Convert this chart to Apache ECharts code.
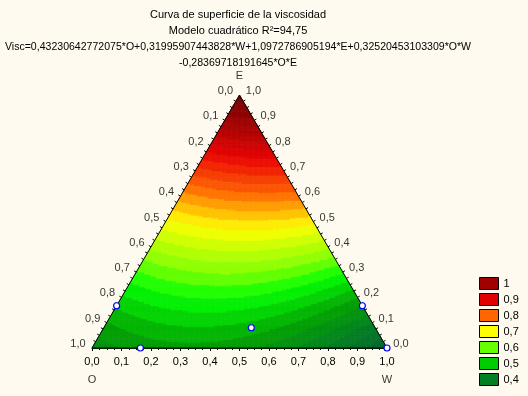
<!DOCTYPE html>
<html>
<head>
<meta charset="utf-8">
<script src="https://cdn.jsdelivr.net/npm/echarts@6/dist/echarts.min.js"></script>
<style>
html,body{margin:0;padding:0;background:#fffaf0;}
#chart{width:528px;height:396px;}
</style>
</head>
<body>
<div id="chart"></div>
<script>
// coeficientes del modelo cuadratico (O, W, E, O*W, O*E)
var coefTerms = ['O', 'W', 'E', 'O*W', 'O*E'];
var coefValues = [0.43230642772075, 0.31995907443828, 1.0972786905194, 0.32520453103309, -0.28369718191645];

// etiquetas de los lados
var edgeTicks = [0, 0.1, 0.2, 0.3, 0.4, 0.5, 0.6, 0.7, 0.8, 0.9, 1.0];
var minorPerTick = 4;
var vertexNames = ['O', 'W', 'E'];

// puntos experimentales (fracciones O, W, E)
var designO = [0.833, 0.836, 0.42, 0, 0];
var designW = [0, 0.164, 0.50, 0.833, 1];
var designE = [0.167, 0, 0.08, 0.167, 0];

// leyenda
var legendLevels = ['1', '0,9', '0,8', '0,7', '0,6', '0,5', '0,4'];
var legendColors = ['#a00000', '#e00000', '#ff6600', '#ffff00', '#66ff00', '#00cc00', '#008020'];

// escala de colores de las bandas
var bandStep = 0.025;
var bandMin = 0.3, bandMax = 1.125;
var colorStops = [0.3, 0.4, 0.47, 0.5, 0.55, 0.6, 0.7, 0.8, 0.9, 1.0, 1.1];
var colorAtStops = ['#005a30', '#008020', '#00a000', '#00c400', '#00ff00', '#80ff00', '#ffff00', '#ff6000', '#e80000', '#a00000', '#700000'];

var FONT = 'Liberation Sans, Arial, sans-serif';
var H = Math.sqrt(3) / 2;
var N = 120;

function fmt(v) { return v.toFixed(1).replace('.', ','); }

function visc(o, w, e) {
  return coefValues[0] * o + coefValues[1] * w + coefValues[2] * e +
    coefValues[3] * o * w + coefValues[4] * o * e;
}

function hex(c) { return [parseInt(c.substr(1, 2), 16), parseInt(c.substr(3, 2), 16), parseInt(c.substr(5, 2), 16)]; }
function colorFor(v) {
  if (v <= colorStops[0]) return colorAtStops[0];
  for (var i = 1; i < colorStops.length; i++) {
    if (v <= colorStops[i]) {
      var t = (v - colorStops[i - 1]) / (colorStops[i] - colorStops[i - 1]);
      var a = hex(colorAtStops[i - 1]), b = hex(colorAtStops[i]);
      return 'rgb(' + Math.round(a[0] + (b[0] - a[0]) * t) + ',' + Math.round(a[1] + (b[1] - a[1]) * t) + ',' + Math.round(a[2] + (b[2] - a[2]) * t) + ')';
    }
  }
  return colorAtStops[colorAtStops.length - 1];
}

var pieces = [];
for (var lo = bandMin; lo < bandMax - 1e-9; lo += bandStep) {
  pieces.push({ gte: lo, lt: lo + bandStep, color: colorFor(lo + bandStep / 2) });
}

// triangulos del simplex
var cells = [];
for (var b = 0; b < N; b++) {
  for (var a = 0; a + b < N; a++) {
    var e = (b + 1 / 3) / N, w = (a + 1 / 3) / N;
    cells.push([w + e / 2, e * H, visc(1 - w - e, w, e), a, b, 1]);
    if (a + b < N - 1) {
      e = (b + 2 / 3) / N; w = (a + 2 / 3) / N;
      cells.push([w + e / 2, e * H, visc(1 - w - e, w, e), a, b, 0]);
    }
  }
}

function toXY(o, w, e) { return [w + e / 2, e * H]; }

var leftLabels = edgeTicks.map(function (t) { var p = toXY(t, 0, 1 - t); return { value: p, name: fmt(t) }; });
var rightLabels = edgeTicks.map(function (t) { var p = toXY(0, 1 - t, t); return { value: p, name: fmt(t) }; });
var vertexPts = [toXY(1, 0, 0), toXY(0, 1, 0), toXY(0, 0, 1)].map(function (p, i) { return { value: p, name: vertexNames[i] }; });
var designPts = designO.map(function (o, i) { return toXY(o, designW[i], designE[i]); });

// marcas pequenas en los lados inclinados
var sideTicks = [];
for (var k = 1; k < (edgeTicks.length - 1) * minorPerTick; k++) {
  var t = k / ((edgeTicks.length - 1) * minorPerTick);
  sideTicks.push(toXY(1 - t, 0, t).concat([-1]));
  sideTicks.push(toXY(0, 1 - t, t).concat([1]));
}

function renderCell(params, api) {
  var a = api.value(3), b = api.value(4), up = api.value(5);
  var pts = up ? [[a, b], [a + 1, b], [a, b + 1]] : [[a + 1, b], [a, b + 1], [a + 1, b + 1]];
  var points = pts.map(function (p) {
    var w = p[0] / N, e = p[1] / N;
    return api.coord([w + e / 2, e * H]);
  });
  var c = api.visual('color');
  return { type: 'polygon', silent: true, shape: { points: points }, style: { fill: c, stroke: c, lineWidth: 0.6 } };
}

function renderSideTick(params, api) {
  var p = api.coord([api.value(0), api.value(1)]);
  var side = api.value(2);
  var len = 2.5;
  return {
    type: 'line', silent: true,
    shape: { x1: p[0], y1: p[1], x2: p[0] + side * 0.863 * len, y2: p[1] - 0.505 * len },
    style: { stroke: '#000', lineWidth: 1 }
  };
}

var chart = echarts.init(document.getElementById('chart'));
var labelStyle = { show: true, position: 'inside', color: '#000', fontSize: 11, fontFamily: FONT, formatter: '{b}' };

var series = [
  {
    type: 'custom', renderItem: renderCell, data: cells, progressive: 0, animation: false,
    encode: { x: 0, y: 1 }, z: 1
  },
  {
    type: 'line', data: [toXY(1, 0, 0), toXY(0, 0, 1), toXY(0, 1, 0), toXY(1, 0, 0)],
    symbol: 'none', lineStyle: { color: '#000', width: 1 }, z: 3, silent: true
  },
  {
    type: 'custom', renderItem: renderSideTick, data: sideTicks, encode: { x: 0, y: 1 }, z: 3, silent: true
  },
  {
    type: 'scatter', data: leftLabels, symbolSize: 1, itemStyle: { color: 'transparent' }, silent: true,
    label: Object.assign({}, labelStyle, { offset: [-14, -4] }), z: 4
  },
  {
    type: 'scatter', data: rightLabels, symbolSize: 1, itemStyle: { color: 'transparent' }, silent: true,
    label: Object.assign({}, labelStyle, { offset: [14, -4] }), z: 4
  },
  {
    type: 'scatter', data: vertexPts, symbolSize: 1, itemStyle: { color: 'transparent' }, silent: true,
    label: Object.assign({}, labelStyle, { offset: [0, 32] }), z: 4
  },
  {
    type: 'scatter', data: designPts, symbol: 'circle', symbolSize: 6,
    itemStyle: { color: '#ffffff', borderColor: '#0000ff', borderWidth: 1.2, opacity: 1 }, z: 5
  }
];
// la etiqueta E va encima del vertice
series[5].data[2].label = { offset: [0, -19] };

legendLevels.forEach(function (name, i) {
  series.push({ type: 'scatter', name: name, data: [], itemStyle: { color: legendColors[i], opacity: 1 } });
});

var option = {
  backgroundColor: '#fffaf0',
  animation: false,
  title: {
    text: '{a|Curva de superficie de la viscosidad}\n{a|Modelo cuadrático R²=94,75}\n' +
      '{b|Visc=0,43230642772075*O+0,31995907443828*W+1,0972786905194*E+0,32520453103309*O*W}\n' +
      '{b|-0,28369718191645*O*E}',
    left: 238, top: 7, padding: 0, textAlign: 'center',
    textStyle: {
      fontSize: 11, fontWeight: 'normal', color: '#000', fontFamily: FONT, lineHeight: 16,
      rich: {
        a: { fontSize: 11, color: '#000', fontFamily: FONT, lineHeight: 16 },
        b: { fontSize: 10.55, color: '#000', fontFamily: FONT, lineHeight: 16 }
      }
    }
  },
  grid: { left: 92, right: 141, top: 95, bottom: 48 },
  xAxis: {
    type: 'value', min: 0, max: 1, interval: 0.1,
    axisLine: { show: true, lineStyle: { color: '#000', width: 1 } },
    axisTick: { show: true, length: 3, lineStyle: { color: '#000' } },
    minorTick: { show: true, splitNumber: 4, length: 2, lineStyle: { color: '#000' } },
    splitLine: { show: false },
    axisLabel: { color: '#000', fontSize: 11, fontFamily: FONT, margin: 8, formatter: fmt, showMinLabel: true, showMaxLabel: true }
  },
  yAxis: { type: 'value', min: 0, max: H, show: false },
  visualMap: {
    type: 'piecewise', show: false, seriesIndex: 0, dimension: 2, pieces: pieces
  },
  legend: {
    data: legendLevels, orient: 'vertical', left: 479, top: 277, padding: 0,
    itemWidth: 19, itemHeight: 12, itemGap: 3, icon: 'rect', selectedMode: false,
    itemStyle: { borderColor: '#000', borderWidth: 1, opacity: 1 },
    textStyle: { color: '#000', fontSize: 11, fontFamily: FONT }
  },
  series: series
};
chart.setOption(option);
</script>
</body>
</html>
